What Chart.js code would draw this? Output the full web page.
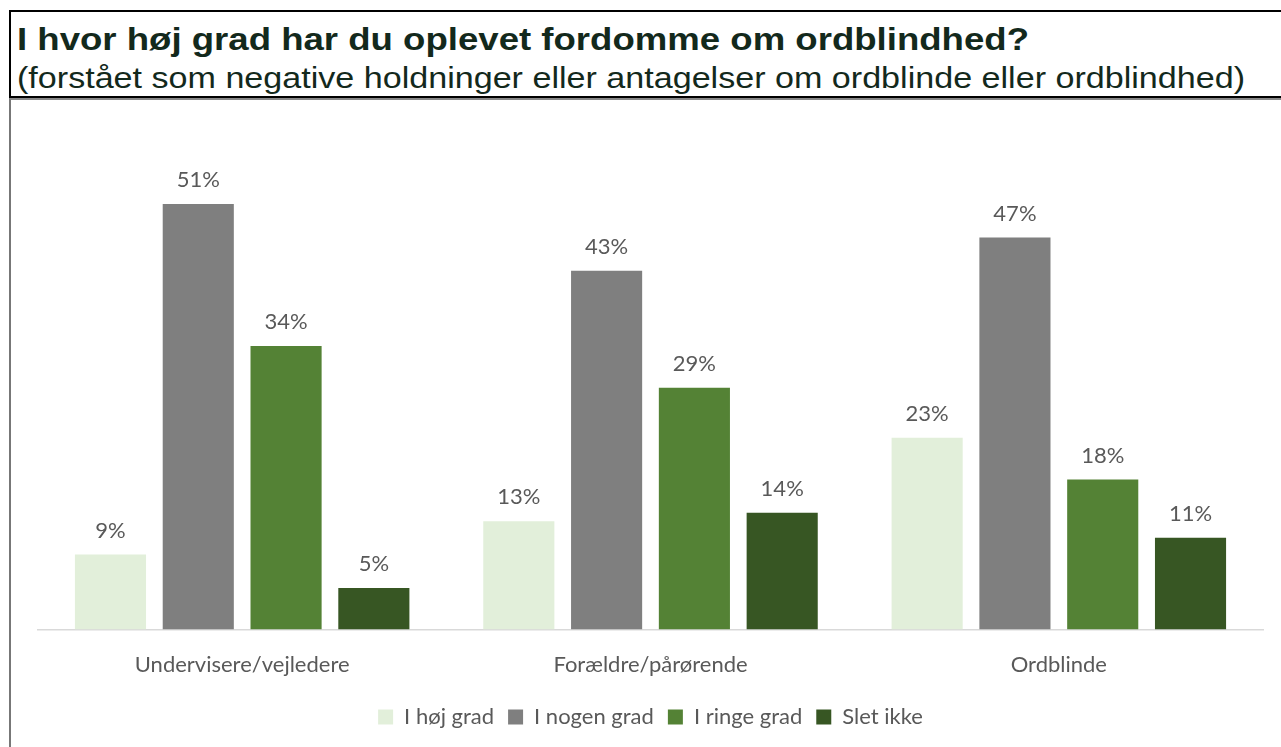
<!DOCTYPE html>
<html>
<head>
<meta charset="utf-8">
<script src="https://cdn.jsdelivr.net/npm/chart.js@4.4.1/dist/chart.umd.min.js"></script>
<style>
  html, body { margin: 0; padding: 0; background: #fff; }
  body { width: 1281px; height: 747px; position: relative; overflow: hidden; }
  .header {
    position: absolute; left: 9px; top: 10px; width: 1280px; height: 84px;
    border-top: 2px solid #000; border-left: 2px solid #000; border-bottom: 2px solid #000;
  }
  .header div {
    position: absolute; left: 6px; line-height: 1; color: #13291c; white-space: nowrap;
    transform-origin: 0 0;
  }
  .header .title { top: 10px; font: bold 31px "Liberation Sans", Arial, sans-serif; }
  .header .sub { top: 50px; font: 29px "Liberation Sans", Arial, sans-serif; }
  .body {
    position: absolute; left: 9px; top: 98px; width: 1280px; height: 660px;
    border-left: 2px solid #777; border-top: 2px solid #888;
  }
  #wrap { position: absolute; left: 11px; top: 99px; width: 1270px; height: 648px; }
</style>
</head>
<body>
<div class="header">
  <div class="title" data-w="1012">I hvor høj grad har du oplevet fordomme om ordblindhed?</div>
  <div class="sub" data-w="1228">(forstået som negative holdninger eller antagelser om ordblinde eller ordblindhed)</div>
</div>
<div class="body"></div>
<div id="wrap"><canvas id="chart"></canvas></div>
<script>
// --- Dades ---
const categories = ['Undervisere/vejledere', 'Forældre/pårørende', 'Ordblinde'];
const seriesNames = ['I høj grad', 'I nogen grad', 'I ringe grad', 'Slet ikke'];
const hojGrad    = [9, 13, 23];
const nogenGrad  = [51, 43, 47];
const ringeGrad  = [34, 29, 18];
const sletIkke   = [5, 14, 11];
const colors = ['#e2efda', '#7f7f7f', '#548235', '#375623'];

const FONT = 'Lato, "Open Sans", sans-serif';

// capçalera: el text de l'original és més ample, l'estirem
document.querySelectorAll('.header div').forEach(el => {
    const w = el.getBoundingClientRect().width;
    el.style.transform = 'scaleX(' + (el.dataset.w / w) + ')';
});

// --- Etiquetes sobre les barres ---
const valueLabels = {
    id: 'valueLabels',
    afterDatasetsDraw(chart) {
        const ctx = chart.ctx;
        ctx.save();
        ctx.fillStyle = '#595959';
        ctx.font = '22px ' + FONT;
        ctx.textAlign = 'center';
        ctx.textBaseline = 'middle';
        chart.data.datasets.forEach((ds, i) => {
            chart.getDatasetMeta(i).data.forEach((bar, j) => {
                ctx.fillText(ds.data[j] + '%', bar.x, bar.y - 24);
            });
        });
        ctx.restore();
    }
};

const values = [hojGrad, nogenGrad, ringeGrad, sletIkke];

new Chart(document.getElementById('chart'), {
    type: 'bar',
    data: {
        labels: categories,
        datasets: seriesNames.map((name, i) => ({
            label: name,
            data: values[i],
            backgroundColor: colors[i],
            borderWidth: 0,
            barPercentage: 0.81,
            categoryPercentage: 0.86,
        }))
    },
    options: {
        responsive: true,
        maintainAspectRatio: false,
        animation: false,
        layout: { padding: { left: 27, right: 18, top: 30, bottom: 9 } },
        plugins: {
            legend: {
                position: 'bottom',
                labels: {
                    color: '#595959',
                    font: { family: FONT, size: 22 },
                    boxWidth: 15, boxHeight: 15,
                    padding: 14,
                },
            },
            tooltip: { enabled: false },
        },
        scales: {
            x: {
                grid: { display: false },
                border: { color: '#d9d9d9', width: 1.5 },
                ticks: { color: '#595959', font: { family: FONT, size: 22 }, padding: 14 },
            },
            y: {
                display: false,
                min: 0, max: 60,
            }
        }
    },
    plugins: [valueLabels]
});
</script>
</body>
</html>
